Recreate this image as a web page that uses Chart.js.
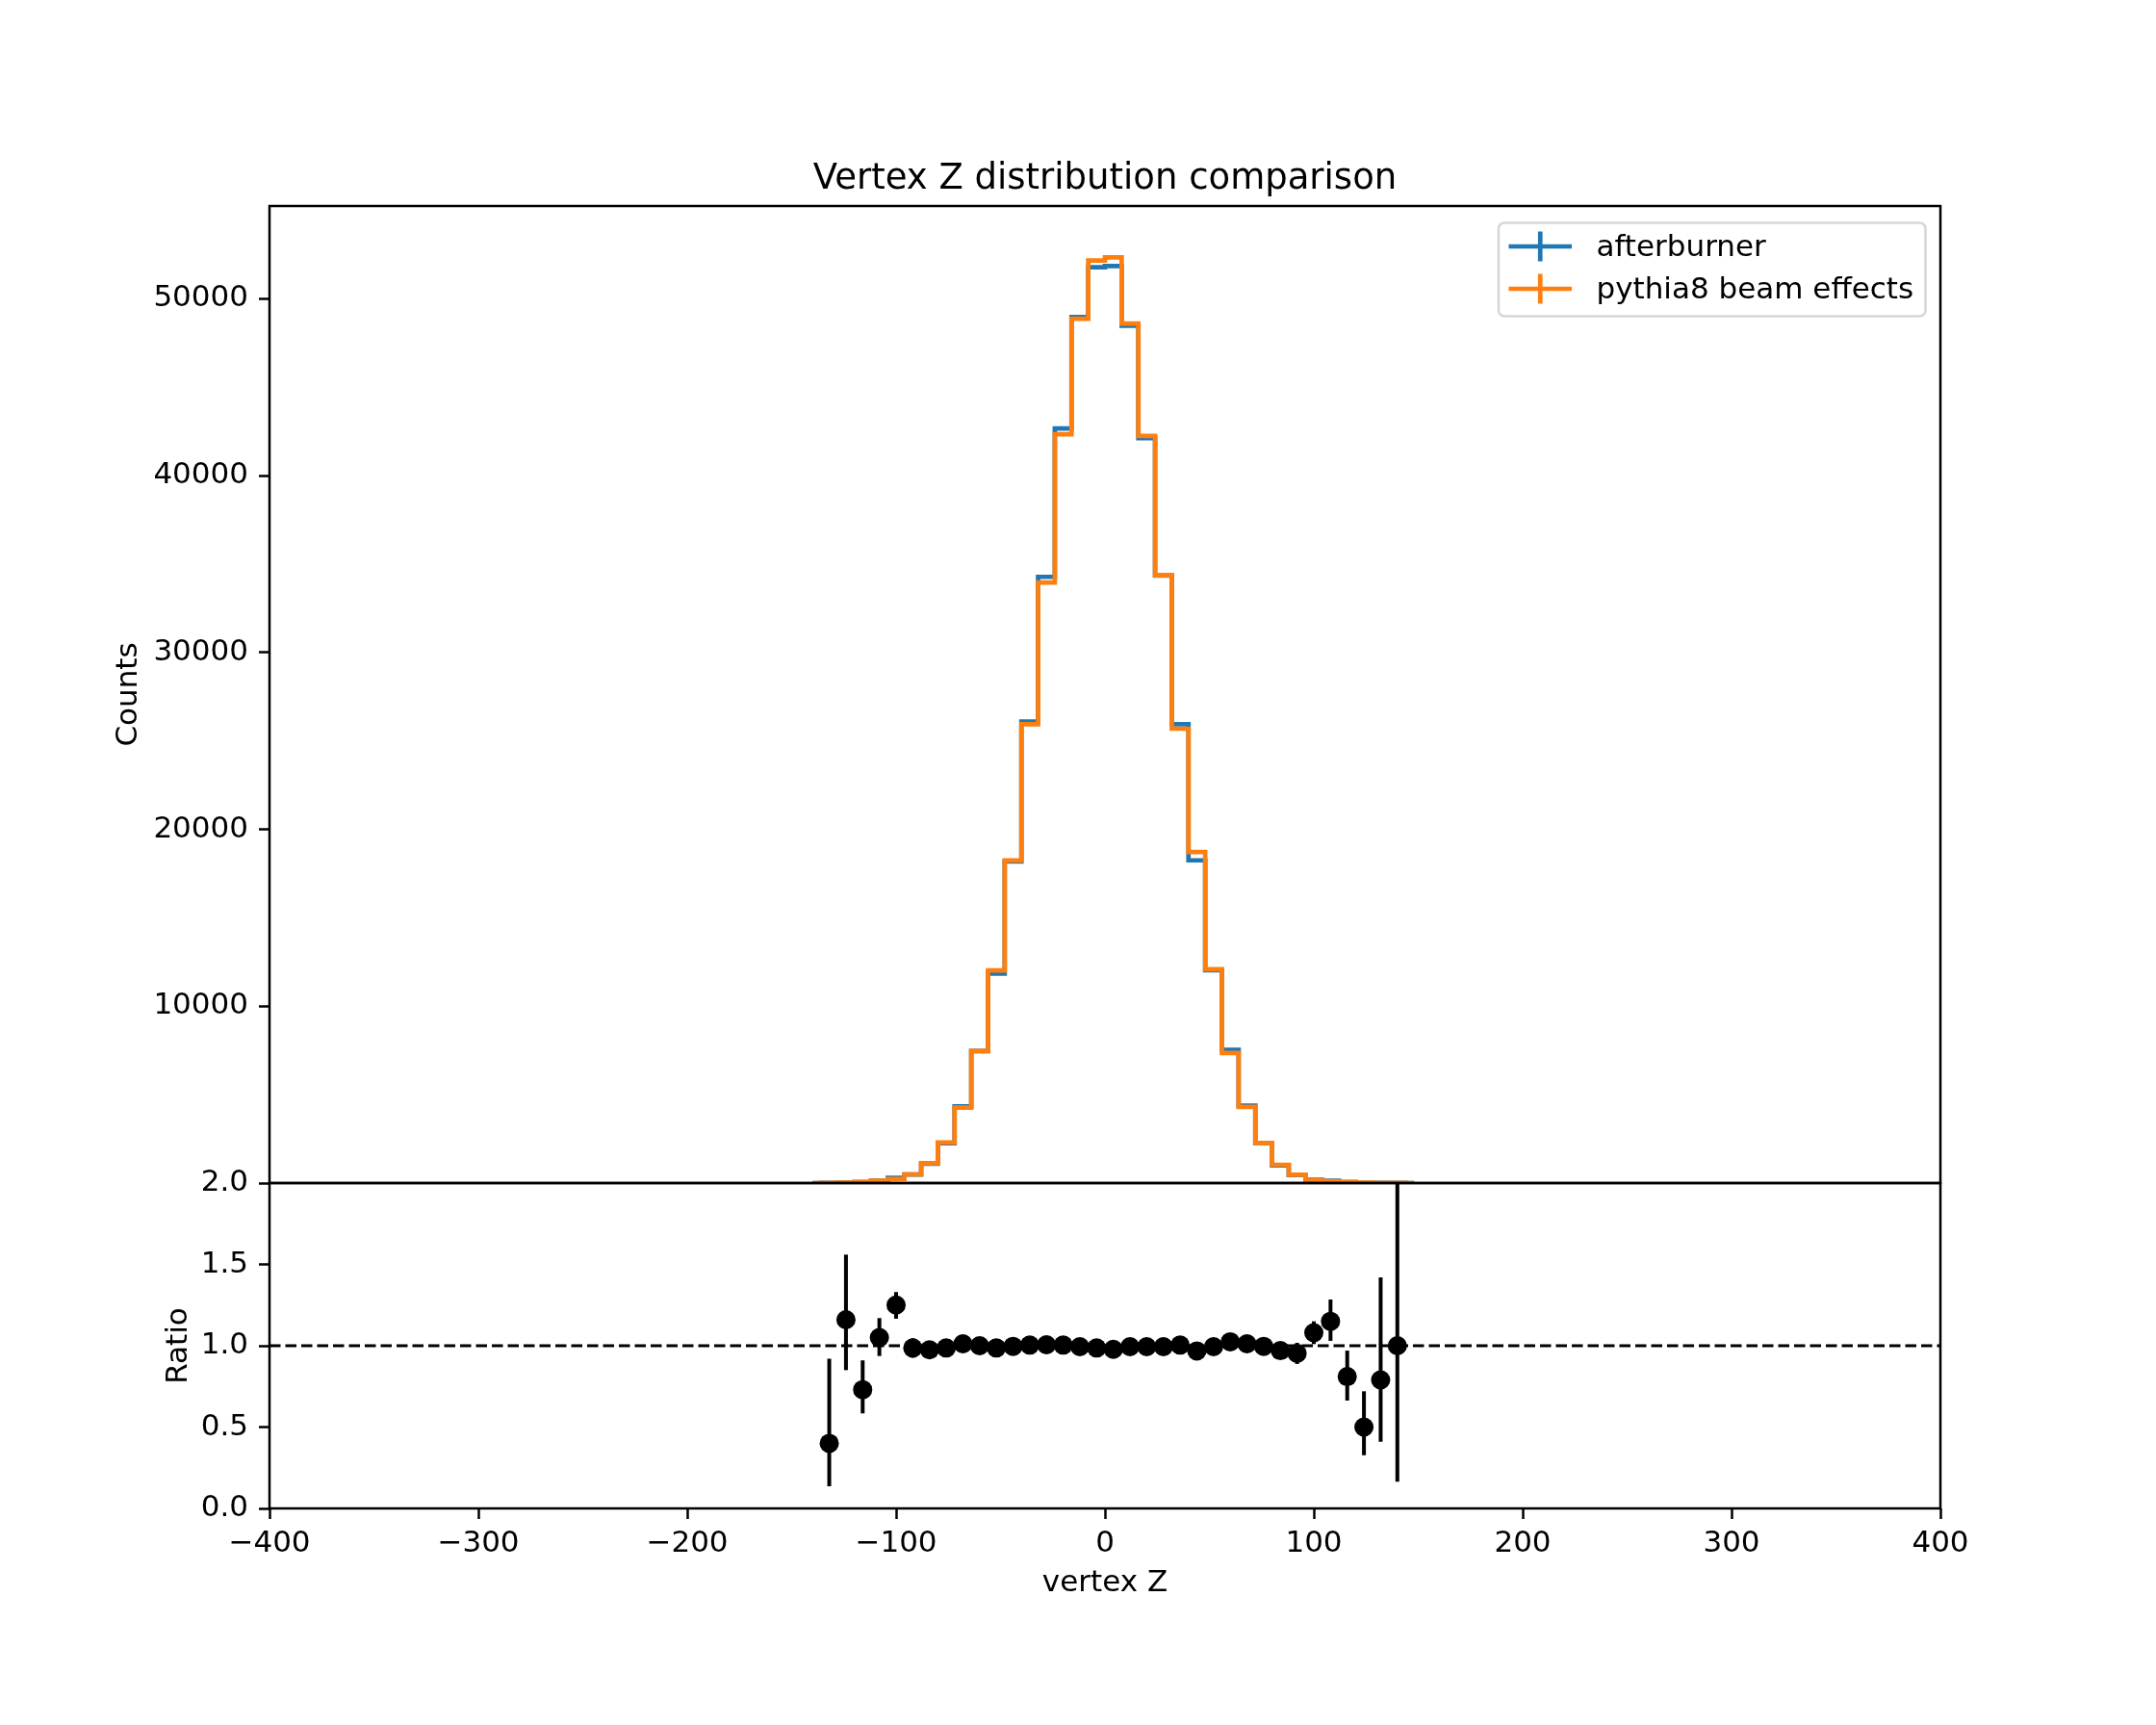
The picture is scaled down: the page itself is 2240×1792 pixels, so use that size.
<!DOCTYPE html>
<html>
<head>
<meta charset="utf-8">
<title>Vertex Z distribution comparison</title>
<script src="https://cdn.jsdelivr.net/npm/chart.js@4.4.1/dist/chart.umd.min.js"></script>
<style>
  html, body { margin: 0; padding: 0; background: #ffffff; }
  #wrap { position: relative; width: 2240px; height: 1792px; overflow: hidden; }
  #wrap canvas { position: absolute; left: 0; }
  #histCanvas { top: 0; }
  #ratioCanvas { top: 1180px; }
</style>
</head>
<body>
<div id="wrap">
  <canvas id="histCanvas" width="2240" height="1270"></canvas>
  <canvas id="ratioCanvas" width="2240" height="612"></canvas>
</div>
<script>
// Vertex Z histograms (bin width 8); only the populated bins plus one empty bin on each side
const binCenters = [-140, -132, -124, -116, -108, -100, -92, -84, -76, -68, -60, -52, -44, -36, -28, -20, -12, -4,
  4, 12, 20, 28, 36, 44, 52, 60, 68, 76, 84, 92, 100, 108, 116, 124, 132, 140, 148];
const afterburnerCounts = [0, 2, 22, 44, 137, 288, 483, 1098, 2257, 4330, 7462, 11850, 18180, 26100, 34280, 42667, 48968, 51782,
  51855, 48477, 42122, 34350, 25945, 18250, 12030, 7540, 4380, 2262, 1004, 450, 190, 127, 49, 14, 8, 2, 0];
const pythiaCounts = [0, 5, 19, 60, 130, 230, 490, 1126, 2288, 4266, 7462, 12020, 18247, 25945, 33960, 42340, 48876, 52163,
  52345, 48604, 42252, 34370, 25692, 18719, 12092, 7353, 4303, 2270, 1035, 472, 175, 110, 60, 28, 10, 2, 0];

// ratio afterburner / pythia8 per bin, with lower / upper error
const ratioCenters = [-132, -124, -116, -108, -100, -92, -84, -76, -68, -60, -52, -44, -36, -28, -20, -12, -4,
  4, 12, 20, 28, 36, 44, 52, 60, 68, 76, 84, 92, 100, 108, 116, 124, 132, 140];
const ratioValues = [0.40, 1.16, 0.73, 1.05, 1.25, 0.986, 0.975, 0.986, 1.012, 1.0, 0.986, 0.996, 1.004, 1.006, 1.004, 0.994, 0.986,
  0.978, 0.994, 0.994, 0.994, 1.004, 0.968, 0.994, 1.024, 1.012, 0.996, 0.97, 0.953, 1.08, 1.15, 0.81, 0.50, 0.79, 1.0];
const ratioErrLow = [0.264, 0.31, 0.146, 0.113, 0.084, 0.06, 0.04, 0.03, 0.022, 0.017, 0.013, 0.011, 0.009, 0.008, 0.007, 0.007, 0.006,
  0.006, 0.007, 0.007, 0.008, 0.009, 0.011, 0.013, 0.017, 0.022, 0.03, 0.045, 0.065, 0.07, 0.12, 0.147, 0.173, 0.38, 0.836];
const ratioErrHigh = [0.52, 0.40, 0.18, 0.12, 0.08, 0.06, 0.04, 0.03, 0.022, 0.017, 0.013, 0.011, 0.009, 0.008, 0.007, 0.007, 0.006,
  0.006, 0.007, 0.007, 0.008, 0.009, 0.011, 0.013, 0.017, 0.022, 0.03, 0.045, 0.065, 0.07, 0.134, 0.16, 0.22, 0.63, 1.2];
const ratioReference = 1.0;

// tick labels
const xTicks = [-400, -300, -200, -100, 0, 100, 200, 300, 400];
const countTicks = [10000, 20000, 30000, 40000, 50000];
const ratioTicks = [0.0, 0.5, 1.0, 1.5, 2.0];
const countMax = 55250;

const FONT = 'DejaVu Sans';
const BLACK = '#000000';
const BLUE = '#1f77b4';
const ORANGE = '#ff7f0e';
const SPINE = 2.5;

Chart.defaults.font.family = FONT;
Chart.defaults.color = BLACK;

const toPoints = (xs, ys) => xs.map((x, i) => ({ x, y: ys[i] }));
const fixTicks = (values) => (scale) => { scale.ticks = values.map(v => ({ value: v })); };
const minusLabel = (v) => (v < 0 ? '\u2212' + Math.abs(v) : String(v));

const tickGrid = {
  drawOnChartArea: false,
  drawTicks: true,
  tickLength: 11,
  tickWidth: SPINE,
  tickColor: BLACK,
};

// box around each panel, like matplotlib spines
const framePlugin = {
  id: 'frame',
  afterDatasetsDraw(chart) {
    const { ctx, chartArea: a } = chart;
    ctx.save();
    ctx.strokeStyle = BLACK;
    ctx.lineWidth = SPINE;
    ctx.strokeRect(a.left, a.top, a.right - a.left, a.bottom - a.top);
    ctx.restore();
  },
};

// legend inside the axes, upper right, with errorbar-style handles
const legendPlugin = {
  id: 'mplLegend',
  afterDraw(chart) {
    const { ctx, chartArea: a } = chart;
    const items = chart.data.datasets.filter(d => d.label);
    const right = a.right - 15.5;
    const left = a.right - 459;
    const top = a.top + 17.5;
    const height = 97;
    ctx.save();
    ctx.beginPath();
    ctx.roundRect(left, top, right - left, height, 6);
    ctx.fillStyle = 'rgba(255,255,255,0.8)';
    ctx.fill();
    ctx.strokeStyle = '#d6d6d6';
    ctx.lineWidth = 2.5;
    ctx.stroke();
    items.forEach((d, i) => {
      const cy = top + 24.5 + i * 44;
      const x0 = left + 10.5;
      const x1 = left + 76;
      ctx.strokeStyle = d.borderColor;
      ctx.lineWidth = 4.7;
      ctx.beginPath();
      ctx.moveTo(x0, cy);
      ctx.lineTo(x1, cy);
      ctx.moveTo((x0 + x1) / 2, cy - 15.5);
      ctx.lineTo((x0 + x1) / 2, cy + 15.5);
      ctx.stroke();
      ctx.fillStyle = BLACK;
      ctx.font = '31px "' + FONT + '"';
      ctx.textAlign = 'left';
      ctx.textBaseline = 'alphabetic';
      ctx.fillText(d.label, left + 101.5, cy + 10);
    });
    ctx.restore();
  },
};

// vertical error bars on the ratio points
const errorBarPlugin = {
  id: 'ratioErrorBars',
  beforeDatasetsDraw(chart) {
    const { ctx, chartArea: a, scales: { x, y } } = chart;
    ctx.save();
    ctx.beginPath();
    ctx.rect(a.left, a.top, a.right - a.left, a.bottom - a.top);
    ctx.clip();
    ctx.strokeStyle = BLACK;
    ctx.lineWidth = 4;
    ratioCenters.forEach((c, i) => {
      const px = x.getPixelForValue(c);
      ctx.beginPath();
      ctx.moveTo(px, y.getPixelForValue(ratioValues[i] - ratioErrLow[i]));
      ctx.lineTo(px, y.getPixelForValue(ratioValues[i] + ratioErrHigh[i]));
      ctx.stroke();
    });
    ctx.restore();
  },
};

new Chart(document.getElementById('histCanvas'), {
  type: 'line',
  data: {
    datasets: [
      {
        label: 'afterburner',
        data: toPoints(binCenters, afterburnerCounts),
        borderColor: BLUE,
        borderWidth: 4.7,
        stepped: 'middle',
        pointRadius: 0,
        fill: false,
        clip: 0,
        order: 2,
      },
      {
        label: 'pythia8 beam effects',
        data: toPoints(binCenters, pythiaCounts),
        borderColor: ORANGE,
        borderWidth: 4.7,
        stepped: 'middle',
        pointRadius: 0,
        fill: false,
        clip: 0,
        order: 1,
      },
    ],
  },
  options: {
    responsive: false,
    animation: false,
    devicePixelRatio: 1,
    layout: { padding: { left: 0, right: 224, top: 0, bottom: 41 } },
    scales: {
      x: {
        type: 'linear',
        min: xTicks[0],
        max: xTicks[xTicks.length - 1],
        display: false,
      },
      y: {
        type: 'linear',
        min: 0,
        max: countMax,
        afterFit: (scale) => { scale.width = 280; },
        afterBuildTicks: fixTicks(countTicks),
        border: { display: false },
        grid: tickGrid,
        ticks: {
          autoSkip: false,
          padding: 11,
          color: BLACK,
          font: { size: 31 },
          callback: (v) => String(v),
        },
        title: {
          display: true,
          text: 'Counts',
          color: BLACK,
          font: { size: 31 },
          padding: { top: 115.5, bottom: 0 },
        },
      },
    },
    plugins: {
      legend: { display: false },
      tooltip: { enabled: false },
      title: {
        display: true,
        fullSize: false,
        text: 'Vertex Z distribution comparison',
        color: BLACK,
        font: { size: 37, weight: 'normal', lineHeight: 1.2 },
        padding: { top: 164, bottom: 5.6 },
      },
    },
  },
  plugins: [framePlugin, legendPlugin],
});

new Chart(document.getElementById('ratioCanvas'), {
  type: 'scatter',
  data: {
    datasets: [
      {
        label: 'ratio',
        data: toPoints(ratioCenters, ratioValues),
        pointRadius: 10,
        pointBackgroundColor: BLACK,
        pointBorderWidth: 0,
        order: 1,
      },
      {
        label: 'reference',
        data: [{ x: xTicks[0], y: ratioReference }, { x: xTicks[xTicks.length - 1], y: ratioReference }],
        showLine: true,
        borderColor: BLACK,
        borderWidth: 3,
        borderDash: [11.5, 5],
        pointRadius: 0,
        order: 2,
      },
    ],
  },
  options: {
    responsive: false,
    animation: false,
    devicePixelRatio: 1,
    layout: { padding: { left: 0, right: 224, top: 49, bottom: 0 } },
    scales: {
      x: {
        type: 'linear',
        min: xTicks[0],
        max: xTicks[xTicks.length - 1],
        afterFit: (scale) => { scale.height = 225; },
        afterBuildTicks: fixTicks(xTicks),
        border: { display: false },
        grid: tickGrid,
        ticks: {
          autoSkip: false,
          maxRotation: 0,
          padding: 7,
          color: BLACK,
          font: { size: 31 },
          callback: minusLabel,
        },
        title: {
          display: true,
          text: 'vertex Z',
          color: BLACK,
          font: { size: 31 },
          padding: { top: 0, bottom: 128.4 },
        },
      },
      y: {
        type: 'linear',
        min: ratioTicks[0],
        max: ratioTicks[ratioTicks.length - 1],
        afterFit: (scale) => { scale.width = 280; },
        afterBuildTicks: fixTicks(ratioTicks),
        border: { display: false },
        grid: tickGrid,
        ticks: {
          autoSkip: false,
          padding: 11,
          color: BLACK,
          font: { size: 31 },
          callback: (v) => v.toFixed(1),
        },
        title: {
          display: true,
          text: 'Ratio',
          color: BLACK,
          font: { size: 31 },
          padding: { top: 167.5, bottom: 0 },
        },
      },
    },
    plugins: {
      legend: { display: false },
      tooltip: { enabled: false },
    },
  },
  plugins: [errorBarPlugin, framePlugin],
});
</script>
</body>
</html>
